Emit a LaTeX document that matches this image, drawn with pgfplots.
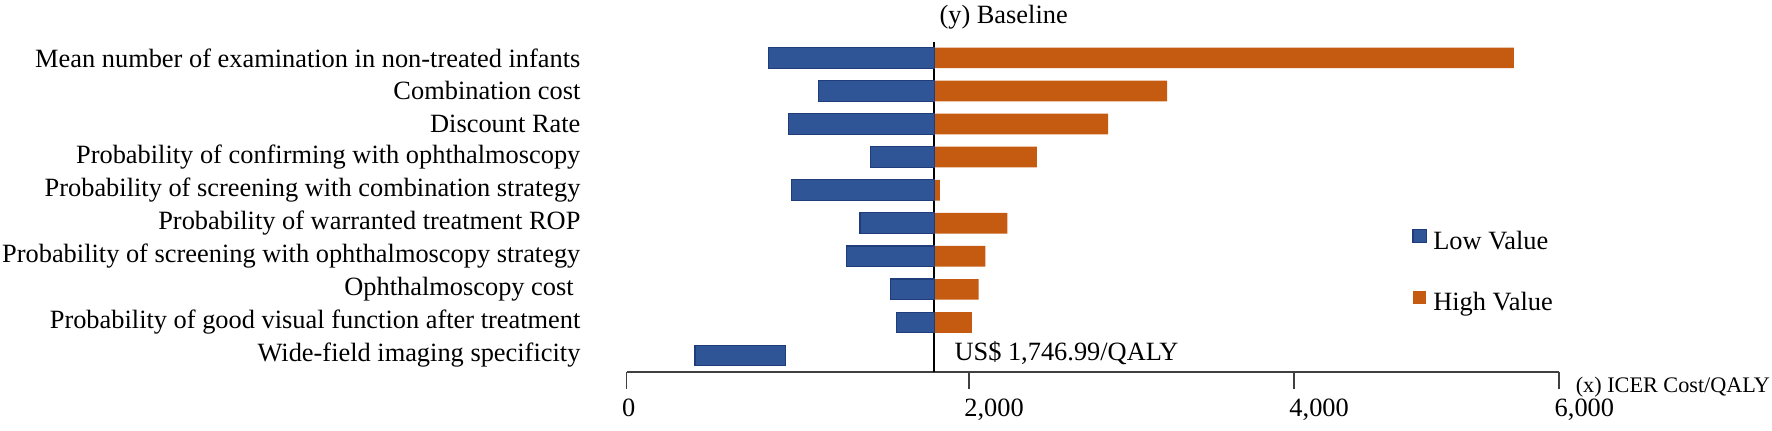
\documentclass[border=0pt]{standalone}
\usepackage{fontspec}
\setmainfont{Liberation Serif}
\usepackage{pgfplots}
\usepackage{pgfplotstable}
\pgfplotsset{compat=1.18}
\definecolor{lowblue}{HTML}{2F5597}
\definecolor{lowedge}{HTML}{1F3D7A}
\definecolor{highor}{HTML}{C55A11}
\definecolor{highedge}{HTML}{E0762B}
% y: row (10 = top); start: left end of blue bar; lowend: right end of blue bar; high: right end of orange bar
\pgfplotstableread{
y start lowend high
10 804 1746.99 5039
9 1088 1746.99 3069
8 918 1746.99 2735
7 1387 1746.99 2329
6 937 1746.99 1779
5 1325 1746.99 2162
4 1249 1746.99 2037
3 1499 1746.99 1999
2 1531 1746.99 1961
1 388 903 903
}\data
\newcommand{\fs}{\fontsize{9.5}{11.4}\selectfont}
\begin{document}
\fs
\begin{tikzpicture}
\begin{axis}[
  at={(225.6pt,21.13pt)}, anchor=south west,
  scale only axis, width=335.74pt, height=118.9pt,
  xmin=0, xmax=5296.6, ymin=0.492, ymax=10.48,
  xbar stacked, bar width=7.45pt,
  axis x line*=bottom, axis y line*=left,
  y axis line style={draw=none},
  x axis line style={line width=0.6pt, black!75},
  tick align=outside, major tick length=6.1pt,
  xtick={0,1944,3790,5296.6},
  xticklabels={0,{2,000},{4,000},{6,000}},
  xtick style={line width=0.6pt, black!75},
  xticklabel style={anchor=north west, xshift=-5pt, font=\fs},
  ytick={1,...,10},
  ytick style={draw=none},
  yticklabels={Wide-field imaging specificity,
    Probability of good visual function after treatment,
    {Ophthalmoscopy cost\kern2.4pt},
    Probability of screening with ophthalmoscopy strategy,
    Probability of warranted treatment ROP,
    Probability of screening with combination strategy,
    Probability of confirming with ophthalmoscopy,
    Discount Rate,
    Combination cost,
    Mean number of examination in non-treated infants},
  yticklabel style={anchor=east, inner sep=0pt, xshift=-10.35pt, font=\fs},
  extra x ticks={1746.99}, extra x tick labels={},
  extra x tick style={grid=major, major grid style={black, line width=0.8pt}, tick style={draw=none}},
  legend image code/.code={\fill[#1] (0pt,-0.1pt) rectangle (4.7pt,4.6pt);},
  legend cell align=left,
  legend style={draw=none, fill=none, at={(0.842,0.3016)}, anchor=west,
    inner sep=0pt, row sep=10.1pt, column sep=0.4pt, font=\fs},
  clip=false,
]
\addplot[draw=none, fill=none, forget plot] table[x=start, y=y] {\data};
\addplot[fill=lowblue, draw=lowedge, line width=0.4pt] table[x expr=\thisrow{lowend}-\thisrow{start}, y=y] {\data};
\addlegendentry{Low Value}
\addplot[fill=highor, draw=none] table[x expr=\thisrow{high}-\thisrow{lowend}, y=y] {\data};
\addlegendentry{High Value}
\node[anchor=base west, inner sep=0pt, font=\fs] at (axis cs:1746.99,10.48) [xshift=1.7pt, yshift=6.5pt] {(y) Baseline};
\node[anchor=base west, inner sep=0pt, font=\fs] at (axis cs:1746.99,0.84) [xshift=7.1pt] {US\$ 1,746.99/QALY};
\node[anchor=base west, inner sep=0pt, font=\fontsize{8.0}{9.5}\selectfont] at (axis cs:5296.6,0.492) [xshift=5.76pt, yshift=-7.3pt] {(x) ICER Cost/QALY};
\end{axis}
\pgfresetboundingbox
\useasboundingbox (0,0) rectangle (637.92pt,155.16pt);
\end{tikzpicture}
\end{document}
